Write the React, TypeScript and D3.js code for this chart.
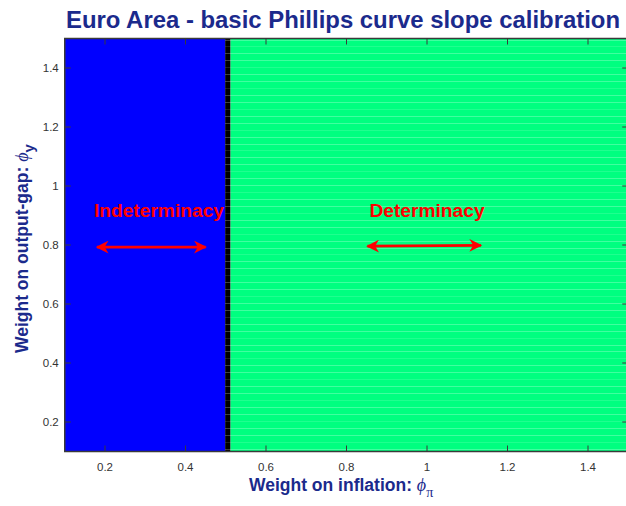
import React from "react";
import * as d3 from "d3";

// regions of the (phi_pi, phi_y) plane
const regionNames = ["indeterminacy", "boundary", "determinacy"];
const regionStart = [0.1, 0.4985, 0.512];
const regionEnd = [0.4985, 0.512, 1.5];
const regionColors = ["#0000ff", "#000000", "#00ff80"];

const xTicks = [0.2, 0.4, 0.6, 0.8, 1, 1.2, 1.4];
const yTicks = [0.2, 0.4, 0.6, 0.8, 1, 1.2, 1.4];

const labelTexts = ["Indeterminacy", "Determinacy"];
const labelX = [0.334, 1.0];
const labelY = [0.91, 0.91];
const arrowX1 = [0.18, 0.852];
const arrowX2 = [0.45, 1.134];
const arrowY1 = [0.793, 0.796];
const arrowY2 = [0.793, 0.799];

const W = 626;
const H = 506;
const margin = { top: 38.5, right: -2.25, bottom: 54.5, left: 64.75 };

const App = () => {
  const x = d3.scaleLinear().domain([0.1, 1.5]).range([margin.left, W - margin.right]);
  const y = d3.scaleLinear().domain([0.1, 1.5]).range([H - margin.bottom, margin.top]);

  // faint light rows that show in the rendered surface
  const rows = d3.range(0.11, 1.5, 0.0235);

  const font = "'Liberation Sans', Arial, sans-serif";
  const titleColor = "#1b2a8c";
  const axisColor = "#3a3a3a";

  return (
    <svg width={W} height={H} style={{ position: "absolute", left: 0, top: 0 }}>
      <defs>
        <clipPath id="plot">
          <rect x={x(0.1)} y={y(1.5)} width={x(1.5) - x(0.1)} height={y(0.1) - y(1.5)} />
        </clipPath>
        <marker id="ah" viewBox="0 0 10 10" refX="9" refY="5" markerWidth="4.6" markerHeight="4.6" orient="auto-start-reverse">
          <path d="M0,0 L10,5 L0,10 L3,5 Z" fill="#ff0000" />
        </marker>
      </defs>

      <g clipPath="url(#plot)">
        {regionNames.map((n, i) => (
          <rect
            key={n}
            x={x(regionStart[i])}
            y={y(1.5)}
            width={x(regionEnd[i]) - x(regionStart[i])}
            height={y(0.1) - y(1.5)}
            fill={regionColors[i]}
          />
        ))}
        {rows.map((r, i) => (
          <line
            key={i}
            x1={x(regionStart[1])}
            x2={x(1.5)}
            y1={Math.round(y(r)) + 0.5}
            y2={Math.round(y(r)) + 0.5}
            stroke="#ffffff"
            strokeOpacity={i % 3 === 1 ? 0.12 : 0.25}
          />
        ))}
      </g>

      {/* box and ticks */}
      <rect
        x={x(0.1)}
        y={y(1.5)}
        width={x(1.5) - x(0.1)}
        height={y(0.1) - y(1.5)}
        fill="none"
        stroke={axisColor}
        strokeWidth={1.5}
      />
      {xTicks.map((t) => (
        <g key={"x" + t}>
          <line x1={x(t)} x2={x(t)} y1={y(0.1)} y2={y(0.1) - 6} stroke={axisColor} />
          <line x1={x(t)} x2={x(t)} y1={y(1.5)} y2={y(1.5) + 6} stroke={axisColor} />
          <text x={x(t)} y={y(0.1) + 19} textAnchor="middle" fontFamily={font} fontSize={11.5} fill="#333">
            {t}
          </text>
        </g>
      ))}
      {yTicks.map((t) => (
        <g key={"y" + t}>
          <line x1={x(0.1)} x2={x(0.1) + 6} y1={y(t)} y2={y(t)} stroke={axisColor} />
          <line x1={x(1.5)} x2={x(1.5) - 6} y1={y(t)} y2={y(t)} stroke={axisColor} />
          <text x={x(0.1) - 6} y={y(t) + 4} textAnchor="end" fontFamily={font} fontSize={11.5} fill="#333">
            {t}
          </text>
        </g>
      ))}

      {/* annotations */}
      {labelTexts.map((l, i) => (
        <g key={l}>
          <text
            x={x(labelX[i])}
            y={y(labelY[i]) + 4.5}
            textAnchor="middle"
            fontFamily={font}
            fontWeight="bold"
            fontSize={19.2}
            fill="#ff0000"
          >
            {l}
          </text>
          <line
            x1={x(arrowX1[i])}
            x2={x(arrowX2[i])}
            y1={y(arrowY1[i])}
            y2={y(arrowY2[i])}
            stroke="#ff0000"
            strokeWidth={2.8}
            markerStart="url(#ah)"
            markerEnd="url(#ah)"
          />
        </g>
      ))}

      {/* title */}
      <text x={343} y={28} textAnchor="middle" fontFamily={font} fontWeight="bold" fontSize={23.9} fill={titleColor}>
        Euro Area - basic Phillips curve slope calibration
      </text>

      {/* x label */}
      <text x={249} y={491} fontFamily={font} fontWeight="bold" fontSize={17.5} fill={titleColor}>
        Weight on inflation:{" "}
        <tspan fontFamily="'Liberation Serif', serif" fontStyle="italic" fontWeight="normal" fontSize={18}>
          ϕ
        </tspan>
        <tspan dy={6} fontFamily="'Liberation Serif', serif" fontWeight="normal" fontSize={14}>
          π
        </tspan>
      </text>

      {/* y label */}
      <text
        transform={`translate(28, 353) rotate(-90)`}
        fontFamily={font}
        fontWeight="bold"
        fontSize={17.5}
        fill={titleColor}
      >
        Weight on output-gap:{" "}
        <tspan fontFamily="'Liberation Serif', serif" fontStyle="italic" fontWeight="normal" fontSize={18}>
          ϕ
        </tspan>
        <tspan dy={6} fontSize={15}>
          y
        </tspan>
      </text>
    </svg>
  );
};

export default App;
